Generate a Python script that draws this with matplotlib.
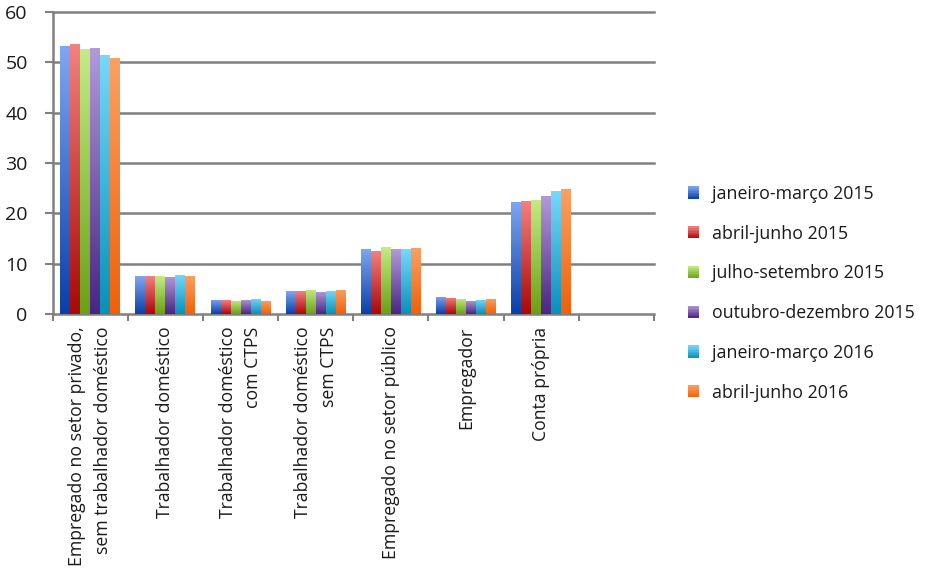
import matplotlib
matplotlib.use("Agg")
import matplotlib.pyplot as plt
import numpy as np
from matplotlib.patches import Patch, Rectangle
from matplotlib.colors import LinearSegmentedColormap
from matplotlib.legend_handler import HandlerBase

plt.rcParams['font.family'] = ['Open Sans', 'DejaVu Sans']

categories = [
    "Empregado no setor privado,\nsem trabalhador doméstico",
    "Trabalhador doméstico",
    "Trabalhador doméstico\ncom CTPS",
    "Trabalhador doméstico\nsem CTPS",
    "Empregado no setor público",
    "Empregador",
    "Conta própria",
    "",
]
series_labels = [
    "janeiro-março 2015",
    "abril-junho 2015",
    "julho-setembro 2015",
    "outubro-dezembro 2015",
    "janeiro-março 2016",
    "abril-junho 2016",
]
jan_mar_2015 = [53.2, 7.5, 2.85, 4.5, 12.9, 3.4, 22.3]
abr_jun_2015 = [53.6, 7.5, 2.7, 4.5, 12.5, 3.2, 22.4]
jul_set_2015 = [52.7, 7.5, 2.6, 4.8, 13.3, 3.0, 22.7]
out_dez_2015 = [52.8, 7.4, 2.85, 4.4, 12.9, 2.6, 23.4]
jan_mar_2016 = [51.5, 7.8, 3.0, 4.6, 12.9, 2.8, 24.4]
abr_jun_2016 = [50.8, 7.6, 2.6, 4.8, 13.1, 3.0, 24.8]
series = [jan_mar_2015, abr_jun_2015, jul_set_2015, out_dez_2015, jan_mar_2016, abr_jun_2016]
yticks = [0, 10, 20, 30, 40, 50, 60]

# (top colour, bottom colour) for the vertical gradients
grad_colors = [
    ("#7fa6f0", "#0a3fa8"),
    ("#f48080", "#a80808"),
    ("#c4ec84", "#6aa014"),
    ("#b29ad8", "#4a2482"),
    ("#78d8fa", "#0890b8"),
    ("#fca062", "#f06008"),
]

fig = plt.figure(figsize=(9.28, 5.79), dpi=100)
ax = fig.add_axes([0.0568, 0.4577, 0.6479, 0.9793 - 0.4577])

n = len(series)
width = 0.133
x = np.arange(len(categories))
grad = np.linspace(0, 1, 256).reshape(-1, 1)

for i, vals in enumerate(series):
    xs = np.arange(len(vals)) + (i - (n - 1) / 2) * width
    top, bot = grad_colors[i]
    cmap = LinearSegmentedColormap.from_list(f"g{i}", [bot, top])
    bars = ax.bar(xs, vals, width=width, color=top, edgecolor="none", zorder=3)
    for b in bars:
        bx, by, bw, bh = b.get_x(), b.get_y(), b.get_width(), b.get_height()
        im = ax.imshow(grad, cmap=cmap, origin="lower", aspect="auto",
                       extent=(bx, bx + bw, by, by + bh), zorder=3.5,
                       interpolation="bilinear")
        im.set_clip_path(b)

ax.set_xlim(-0.5, len(categories) - 0.5)
ax.set_ylim(0, 60)
ax.set_yticks(yticks)
ax.set_yticklabels([str(v) for v in yticks])

for v in yticks[1:]:
    ax.axhline(v, color="#808080", lw=1.8, zorder=2, clip_on=False)

ax.set_xticks(np.arange(len(categories) + 1) - 0.5, minor=False)
ax.set_xticklabels([])
ax.tick_params(axis="x", which="major", length=5, width=1.5, color="#808080", direction="out")
ax.set_xticks(x, minor=True)
ax.set_xticklabels(categories, minor=True, rotation=90, ha="center", va="top",
                   fontsize=12.7, color="#1a1a1a", multialignment="right", linespacing=1.55)
ax.tick_params(axis="x", which="minor", length=0, pad=9)
ax.tick_params(axis="y", length=6, width=1.5, color="#808080", direction="out", pad=12,
               labelsize=14, labelcolor="#1a1a1a")

for s in ["top", "right"]:
    ax.spines[s].set_visible(False)
for s in ["left", "bottom"]:
    ax.spines[s].set_color("#808080")
    ax.spines[s].set_linewidth(1.8)


class GradientHandler(HandlerBase):
    def create_artists(self, legend, orig_handle, xdescent, ydescent, width, height, fontsize, trans):
        top, bot = orig_handle.grad
        cmap = LinearSegmentedColormap.from_list("lg", [bot, top])
        steps = 8
        arts = []
        for k in range(steps):
            r = Rectangle((-xdescent, -ydescent + height * k / steps), width, height / steps + 0.3,
                          facecolor=cmap((k + 0.5) / steps), edgecolor="none", transform=trans)
            arts.append(r)
        return arts


handles = []
for i in range(n):
    h = Patch(facecolor=grad_colors[i][1], edgecolor="none")
    h.grad = grad_colors[i]
    handles.append(h)
fig.legend(handles, series_labels, loc="upper left", bbox_to_anchor=(0.724, 0.708),
           frameon=False, fontsize=12.8, handlelength=0.65, handleheight=0.65,
           handletextpad=0.7, labelspacing=1.22, labelcolor="#1a1a1a",
           handler_map={Patch: GradientHandler()})

fig.savefig("out.png", dpi=100)
